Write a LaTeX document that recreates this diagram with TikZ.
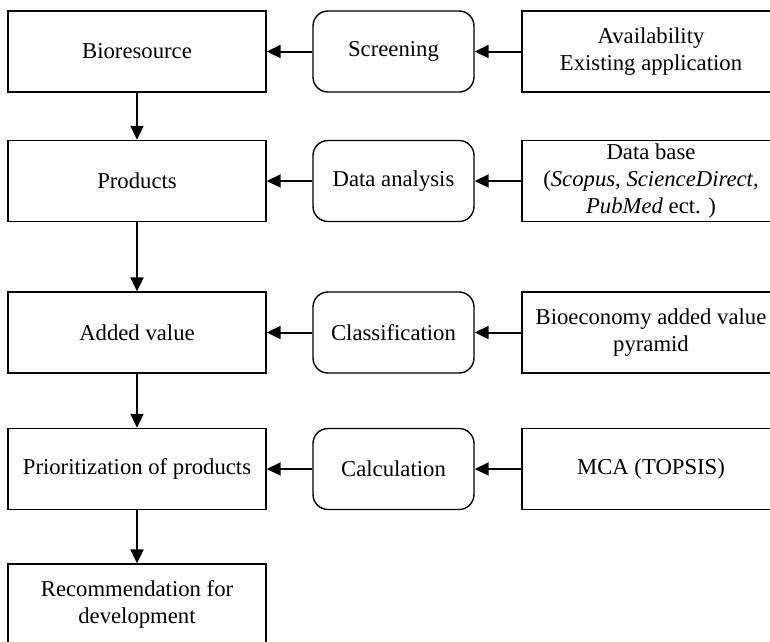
\documentclass[tikz,border=0pt]{standalone}
\usepackage{fontspec}
\setmainfont{Liberation Serif}
\usetikzlibrary{arrows.meta}
\begin{document}
\begin{tikzpicture}[x=1pt,y=-1pt,
  font=\fontsize{22.7}{27}\selectfont,
  box/.style={draw, line width=1.4pt, minimum width=258pt, minimum height=81pt, inner sep=0pt, align=center},
  midbox/.style={draw, line width=1.4pt, rounded corners=15pt, minimum width=161pt, minimum height=81pt, inner sep=0pt, align=center},
  arr/.style={line width=2pt, -{Triangle[length=14pt,width=13pt]}}]
\clip (0,0) rectangle (770,641);
\fill[white] (0,0) rectangle (770,641);
% left column
\node[box] (bio) at (137,51.5) {Bioresource};
\node[box] (prod) at (137,181) {Products};
\node[box] (add) at (137,332.5) {Added value};
\node[box] (prio) at (137,469) {Prioritization of products};
\node[box] (rec) at (137,604.5) {Recommendation for\\development};
% middle column
\node[midbox] (scr) at (393.5,51.5) {Screening};
\node[midbox] (data) at (393.5,181) {Data analysis};
\node[midbox] (cls) at (393.5,332.5) {Classification};
\node[midbox] (calc) at (393.5,469) {Calculation};
% right column
\node[box] (avail) at (651,51.5) {Availability\\Existing application};
\node[box] (db) at (651,181) {Data base\\(\textit{Scopus}, \textit{ScienceDirect},\\\textit{PubMed} ect. )};
\node[box] (pyr) at (651,332.5) {Bioeconomy added value\\pyramid};
\node[box] (mca) at (651,469) {MCA (TOPSIS)};
% vertical arrows
\draw[arr] (bio) -- (prod);
\draw[arr] (prod) -- (add);
\draw[arr] (add) -- (prio);
\draw[arr] (prio) -- (rec);
% horizontal arrows
\draw[arr] (scr) -- (bio);
\draw[arr] (avail) -- (scr);
\draw[arr] (data) -- (prod);
\draw[arr] (db) -- (data);
\draw[arr] (cls) -- (add);
\draw[arr] (pyr) -- (cls);
\draw[arr] (calc) -- (prio);
\draw[arr] (mca) -- (calc);
\end{tikzpicture}
\end{document}
